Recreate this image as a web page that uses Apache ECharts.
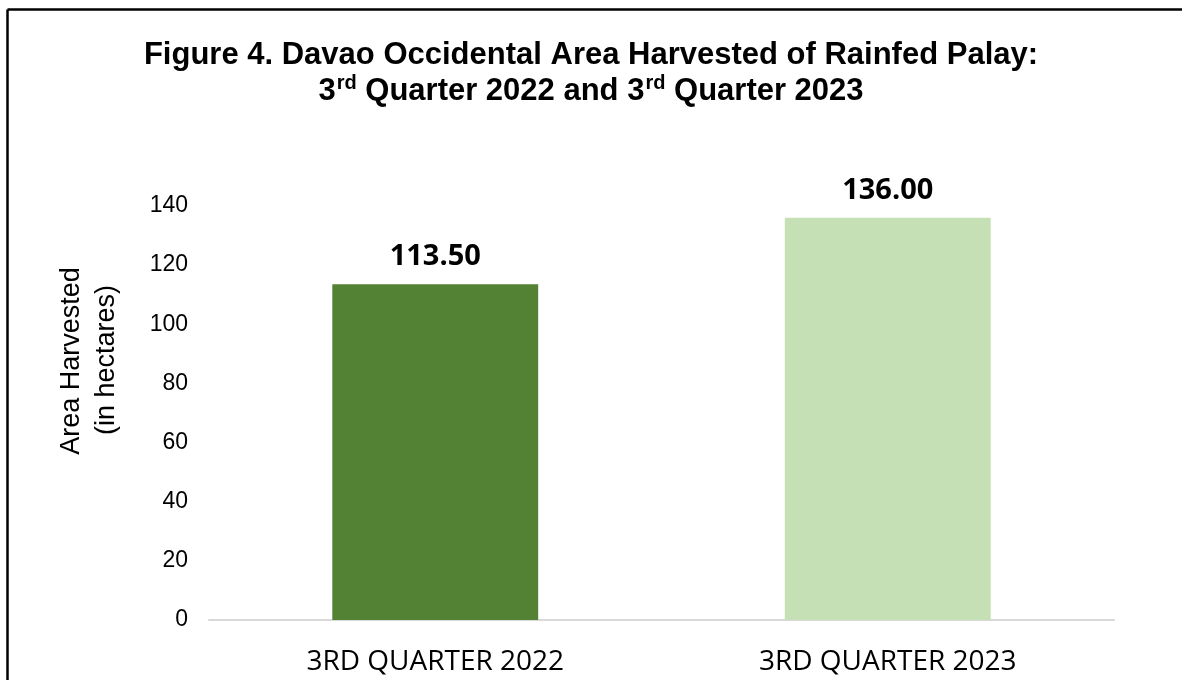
<!DOCTYPE html>
<html><head><meta charset="utf-8">
<script src="https://cdn.jsdelivr.net/npm/echarts@6/dist/echarts.min.js"></script>
<style>html,body{margin:0;padding:0;background:#fff}#c{width:1182px;height:680px}</style>
</head><body><div id="c"></div>
<script>
const categories = ['3RD QUARTER 2022', '3RD QUARTER 2023'];
const values = [113.50, 136.00];
const barColors = ['#548235', '#C5E0B4'];
const yTicks = { min: 0, max: 140, interval: 20 };

const chart = echarts.init(document.getElementById('c'));
chart.setOption({
  animation: false,
  backgroundColor: '#fff',
  title: {
    text: 'Figure 4. Davao Occidental Area Harvested of Rainfed Palay:\n3{sup|rd} Quarter 2022 and 3{sup|rd} Quarter 2023',
    left: 'center', top: 32,
    textStyle: {
      fontFamily: 'Liberation Sans, Arial', fontWeight: 'bold', fontSize: 31, color: '#000', lineHeight: 36,
      rich: { sup: { fontFamily: 'Liberation Sans, Arial', fontWeight: 'bold', fontSize: 20, color: '#000', verticalAlign: 'top', padding: [0,0,12,1] } }
    }
  },
  graphic: [
    { type: 'line', shape: { x1: 7.5, y1: 9.5, x2: 1182, y2: 9.5 }, style: { stroke: '#000', lineWidth: 2.5 } },
    { type: 'line', shape: { x1: 7.5, y1: 9.5, x2: 7.5, y2: 680 }, style: { stroke: '#000', lineWidth: 2.5 } },
    { type: 'text', x: 72, y: 361, rotation: Math.PI / 2, style: { text: 'Area Harvested', fontFamily: 'Liberation Sans, Arial', fontSize: 27, fill: '#000', align: 'center', verticalAlign: 'middle' } },
    { type: 'text', x: 107, y: 360, rotation: Math.PI / 2, style: { text: '(in hectares)', fontFamily: 'Liberation Sans, Arial', fontSize: 27, fill: '#000', align: 'center', verticalAlign: 'middle' } }
  ],
  grid: { left: 209, right: 68, top: 206, bottom: 60, containLabel: false },
  xAxis: {
    type: 'category', data: categories,
    axisLine: { lineStyle: { color: '#d9d9d9', width: 2 } },
    axisTick: { show: false },
    axisLabel: { fontFamily: 'Open Sans, Lato, sans-serif', fontSize: 28, color: '#000', margin: 28 }
  },
  yAxis: {
    type: 'value', min: yTicks.min, max: yTicks.max, interval: yTicks.interval,
    axisLine: { show: false }, axisTick: { show: false }, splitLine: { show: false },
    axisLabel: { fontFamily: 'Liberation Sans, Arial', fontSize: 23, color: '#000', margin: 21 }
  },
  series: [{
    type: 'bar', barWidth: '45.5%',
    data: values.map((v, i) => ({ value: v, itemStyle: { color: barColors[i] } })),
    label: {
      show: true, position: 'top', distance: 13,
      formatter: p => p.value.toFixed(2),
      fontFamily: 'Open Sans, Lato, sans-serif', fontWeight: 'bold', fontSize: 29, color: '#000'
    }
  }]
});
</script></body></html>
